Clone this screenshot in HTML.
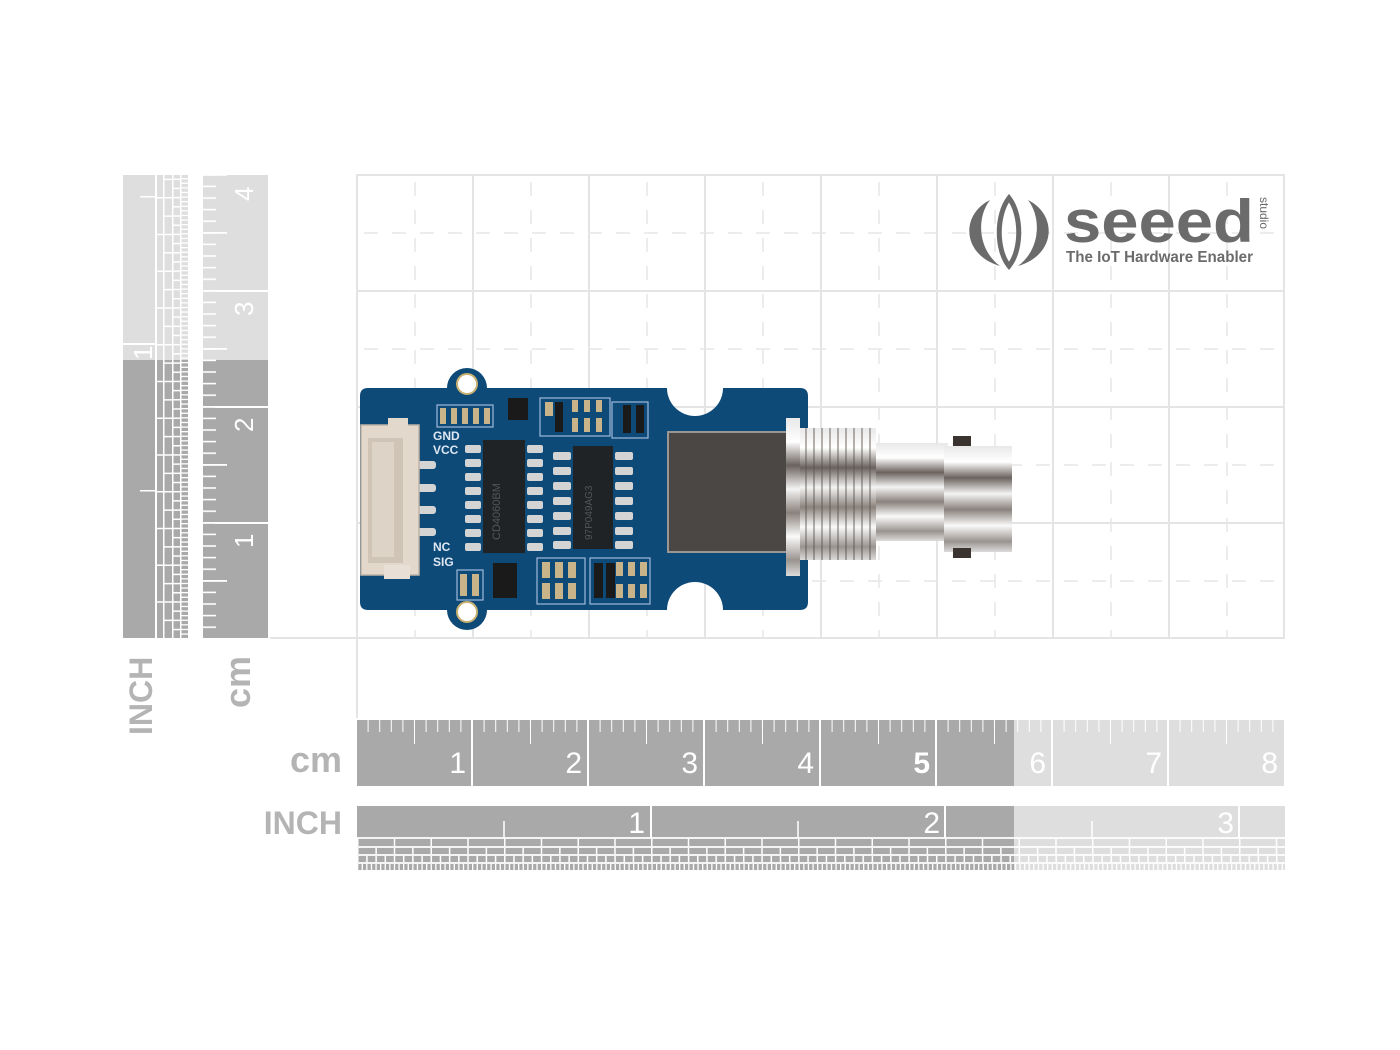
<!DOCTYPE html>
<html><head><meta charset="utf-8"><style>
html,body{margin:0;padding:0;background:#fff;width:1400px;height:1050px;overflow:hidden}
svg{display:block}
text{font-family:"Liberation Sans",sans-serif}
</style></head><body>
<svg width="1400" height="1050" viewBox="0 0 1400 1050" xmlns="http://www.w3.org/2000/svg">
<defs>
<pattern id="mmH" x="357" y="0" width="11.6" height="1050" patternUnits="userSpaceOnUse"><rect x="10.6" y="720" width="1.6" height="12" fill="#fff"/></pattern>
<pattern id="halfH" x="357" y="0" width="58" height="1050" patternUnits="userSpaceOnUse"><rect x="57" y="720" width="1.8" height="24" fill="#fff"/></pattern>
<pattern id="mmV" x="0" y="638" width="1050" height="11.6" patternUnits="userSpaceOnUse"><rect x="203" y="0" width="13" height="1.6" fill="#fff"/></pattern>
<pattern id="halfV" x="0" y="638" width="1050" height="58" patternUnits="userSpaceOnUse"><rect x="203" y="0" width="24" height="1.8" fill="#fff"/></pattern>
<pattern id="r1" x="357" y="0" width="36.75" height="10" patternUnits="userSpaceOnUse"><rect x="0" y="0" width="1.5" height="10" fill="#fff"/></pattern>
<pattern id="r2" x="357" y="0" width="18.375" height="10" patternUnits="userSpaceOnUse"><rect x="0" y="0" width="1.5" height="10" fill="#fff"/></pattern>
<pattern id="r3" x="357" y="0" width="9.19" height="10" patternUnits="userSpaceOnUse"><rect x="0" y="0" width="1.5" height="10" fill="#fff"/></pattern>
<pattern id="r4" x="357" y="0" width="4.6" height="10" patternUnits="userSpaceOnUse"><rect x="0" y="0" width="1.3" height="10" fill="#fff"/></pattern>
<pattern id="v1" x="0" y="638" width="10" height="36.75" patternUnits="userSpaceOnUse"><rect x="0" y="0" width="10" height="1.5" fill="#fff"/></pattern>
<pattern id="v2" x="0" y="638" width="10" height="18.375" patternUnits="userSpaceOnUse"><rect x="0" y="0" width="10" height="1.5" fill="#fff"/></pattern>
<pattern id="v3" x="0" y="638" width="10" height="9.19" patternUnits="userSpaceOnUse"><rect x="0" y="0" width="10" height="1.5" fill="#fff"/></pattern>
<pattern id="v4" x="0" y="638" width="10" height="4.6" patternUnits="userSpaceOnUse"><rect x="0" y="0" width="10" height="1.3" fill="#fff"/></pattern>
<linearGradient id="metal" x1="0" y1="0" x2="0" y2="1">
<stop offset="0" stop-color="#e8e8e8"/><stop offset="0.15" stop-color="#fff"/><stop offset="0.3" stop-color="#6a625e"/><stop offset="0.45" stop-color="#f4f4f4"/><stop offset="0.6" stop-color="#8a827c"/><stop offset="0.75" stop-color="#fafafa"/><stop offset="0.9" stop-color="#9a9490"/><stop offset="1" stop-color="#dcdcdc"/>
</linearGradient>
<pattern id="thread" x="800" y="0" width="8" height="10" patternUnits="userSpaceOnUse"><rect x="5" width="2" height="10" fill="#5a5450" opacity="0.45"/></pattern>
</defs>

<g stroke="#e4e4e4" stroke-width="2" fill="none">
<rect x="357" y="175" width="927" height="463"/>
<path d="M473 175V638M589 175V638M705 175V638M821 175V638M937 175V638M1053 175V638M1169 175V638M357 291H1284M357 407H1284M357 523H1284"/>
<path d="M357 638V718M270 638H357"/>
</g>
<g stroke="#e6e6e6" stroke-width="1.5" stroke-dasharray="14 14" fill="none">
<path d="M415 182V638M531 182V638M647 182V638M763 182V638M879 182V638M995 182V638M1111 182V638M1227 182V638"/>
<path d="M364 233H1284M364 349H1284M364 465H1284M364 581H1284"/>
</g>

<g fill="#6b6b6b">
<path d="M990 200 C960 215 962 255 1000 266 C978 250 976 218 990 200Z"/>
<path d="M1028 200 C1058 215 1056 255 1018 266 C1040 250 1042 218 1028 200Z"/>
<path d="M1009 198 C996 215 996 250 1009 266 C1022 250 1022 215 1009 198Z" fill="none" stroke="#6b6b6b" stroke-width="5"/>
</g>
<text x="1064" y="242" font-size="60" font-weight="bold" fill="#6b6b6b" textLength="190" lengthAdjust="spacingAndGlyphs">seeed</text>
<text x="1066" y="262" font-size="15.5" font-weight="bold" fill="#6b6b6b" textLength="187" lengthAdjust="spacingAndGlyphs">The IoT Hardware Enabler</text>
<text x="0" y="0" font-size="12" fill="#6b6b6b" transform="translate(1260,197) rotate(90)">studio</text>

<rect x="123" y="175" width="65" height="185" fill="#dedede"/>
<rect x="123" y="360" width="65" height="278" fill="#a8a9a8"/>
<rect x="203" y="175" width="65" height="185" fill="#dedede"/>
<rect x="203" y="360" width="65" height="278" fill="#a8a9a8"/>
<rect x="155" y="175" width="2" height="463" fill="#fff"/>
<rect x="163" y="175" width="1.5" height="463" fill="#fff"/>
<rect x="172" y="175" width="1.5" height="463" fill="#fff"/>
<rect x="180" y="175" width="1.5" height="463" fill="#fff"/>
<rect x="157" y="175" width="6" height="463" fill="url(#v1)"/>
<rect x="164.5" y="175" width="7.5" height="463" fill="url(#v2)"/>
<rect x="173.5" y="175" width="6.5" height="463" fill="url(#v3)"/>
<rect x="181.5" y="175" width="6.5" height="463" fill="url(#v4)"/>
<rect x="123" y="343" width="32" height="2" fill="#fff"/>
<rect x="140" y="490" width="15" height="1.5" fill="#fff"/>
<rect x="140" y="196" width="15" height="1.5" fill="#fff"/>
<text transform="translate(152,360) rotate(-90)" font-size="26" fill="#fff">1</text>
<rect x="203" y="175" width="65" height="463" fill="url(#mmV)"/>
<rect x="203" y="175" width="65" height="463" fill="url(#halfV)"/>
<path d="M215 523H268M215 407H268M215 291H268" stroke="#fff" stroke-width="2"/>
<g font-size="26" fill="#fff">
<text transform="translate(253,548) rotate(-90)">1</text>
<text transform="translate(253,432) rotate(-90)">2</text>
<text transform="translate(253,316) rotate(-90)">3</text>
<text transform="translate(253,201) rotate(-90)">4</text>
</g>
<text transform="translate(152,735) rotate(-90)" font-size="32" font-weight="bold" fill="#b4b4b4">INCH</text>
<text transform="translate(250,708) rotate(-90)" font-size="36" font-weight="bold" fill="#b4b4b4">cm</text>

<rect x="357" y="720" width="657" height="66" fill="#a8a9a8"/>
<rect x="1014" y="720" width="270" height="66" fill="#dedede"/>
<rect x="357" y="720" width="927" height="66" fill="url(#mmH)"/>
<rect x="357" y="720" width="927" height="66" fill="url(#halfH)"/>
<path d="M472 720V786M588 720V786M704 720V786M820 720V786M936 720V786M1052 720V786M1168 720V786" stroke="#fff" stroke-width="2"/>
<g font-size="30" fill="#fff" text-anchor="end">
<text x="466" y="773">1</text><text x="582" y="773">2</text><text x="698" y="773">3</text><text x="814" y="773">4</text><text x="930" y="773" font-weight="bold">5</text><text x="1046" y="773">6</text><text x="1162" y="773">7</text><text x="1278" y="773">8</text>
</g>
<text x="342" y="772" font-size="36" font-weight="bold" fill="#b4b4b4" text-anchor="end">cm</text>

<rect x="357" y="806" width="657" height="64" fill="#a8a9a8"/>
<rect x="1014" y="806" width="271" height="64" fill="#dedede"/>
<path d="M357 838H1285M357 847H1285M357 855H1285M357 863H1285" stroke="#fff" stroke-width="1.8"/>
<rect x="357" y="839" width="928" height="7" fill="url(#r1)"/>
<rect x="357" y="848" width="928" height="6" fill="url(#r2)"/>
<rect x="357" y="856" width="928" height="6" fill="url(#r3)"/>
<rect x="357" y="864" width="928" height="6" fill="url(#r4)"/>
<path d="M651 806V838M945 806V838M1239 806V838" stroke="#fff" stroke-width="2"/>
<path d="M504 821V838M798 821V838M1092 821V838" stroke="#fff" stroke-width="1.5"/>
<g font-size="30" fill="#fff" text-anchor="end">
<text x="645" y="833">1</text><text x="940" y="833">2</text><text x="1234" y="833">3</text>
</g>
<text x="342" y="834" font-size="32" font-weight="bold" fill="#b4b4b4" text-anchor="end">INCH</text>

<path d="M360 396 Q360 388 368 388 L447 388 A20 20 0 0 1 487 388 L667 388 A28 28 0 0 0 723 388 L800 388 Q808 388 808 396 L808 602 Q808 610 800 610 L723 610 A28 28 0 0 0 667 610 L487 610 A20 20 0 0 1 447 610 L368 610 Q360 610 360 602 Z" fill="#0e4a78"/>
<circle cx="467" cy="384" r="10" fill="#fff" stroke="#c8b070" stroke-width="2"/>
<circle cx="467" cy="612" r="10" fill="#fff" stroke="#c8b070" stroke-width="2"/>
<g fill="none" stroke="#9fb9d8" stroke-width="1.2">
<rect x="437" y="405" width="56" height="22"/>
<rect x="540" y="398" width="70" height="38"/>
<rect x="612" y="402" width="36" height="36"/>
<rect x="537" y="558" width="48" height="46"/>
<rect x="590" y="558" width="60" height="46"/>
<rect x="457" y="570" width="26" height="30"/>
</g>
<g fill="#c9b48a">
<rect x="440" y="408" width="6" height="16"/><rect x="451" y="408" width="6" height="16"/><rect x="462" y="408" width="6" height="16"/><rect x="473" y="408" width="6" height="16"/><rect x="484" y="408" width="6" height="16"/>
<rect x="545" y="402" width="8" height="14"/><rect x="572" y="400" width="6" height="12"/><rect x="584" y="400" width="6" height="12"/><rect x="596" y="400" width="6" height="12"/>
<rect x="572" y="418" width="6" height="14"/><rect x="584" y="418" width="6" height="14"/><rect x="596" y="418" width="6" height="14"/>
<rect x="542" y="562" width="8" height="16"/><rect x="555" y="562" width="8" height="16"/><rect x="568" y="562" width="8" height="16"/>
<rect x="542" y="583" width="8" height="16"/><rect x="555" y="583" width="8" height="16"/><rect x="568" y="583" width="8" height="16"/>
<rect x="616" y="562" width="7" height="14"/><rect x="628" y="562" width="7" height="14"/><rect x="640" y="562" width="7" height="14"/>
<rect x="616" y="584" width="7" height="14"/><rect x="628" y="584" width="7" height="14"/><rect x="640" y="584" width="7" height="14"/>
<rect x="460" y="574" width="7" height="22"/><rect x="472" y="574" width="7" height="22"/>
</g>
<g fill="#1a1a1a">
<rect x="508" y="398" width="20" height="22"/><rect x="555" y="402" width="8" height="30"/>
<rect x="623" y="405" width="8" height="28"/><rect x="636" y="405" width="8" height="28"/>
<rect x="493" y="563" width="24" height="35"/><rect x="594" y="563" width="9" height="35"/><rect x="606" y="563" width="9" height="35"/>
</g>
<g fill="#d4d4d4">
<rect x="465" y="445" width="16" height="8" rx="2"/><rect x="465" y="459" width="16" height="8" rx="2"/><rect x="465" y="473" width="16" height="8" rx="2"/><rect x="465" y="487" width="16" height="8" rx="2"/><rect x="465" y="501" width="16" height="8" rx="2"/><rect x="465" y="515" width="16" height="8" rx="2"/><rect x="465" y="529" width="16" height="8" rx="2"/><rect x="465" y="543" width="16" height="8" rx="2"/>
<rect x="527" y="445" width="16" height="8" rx="2"/><rect x="527" y="459" width="16" height="8" rx="2"/><rect x="527" y="473" width="16" height="8" rx="2"/><rect x="527" y="487" width="16" height="8" rx="2"/><rect x="527" y="501" width="16" height="8" rx="2"/><rect x="527" y="515" width="16" height="8" rx="2"/><rect x="527" y="529" width="16" height="8" rx="2"/><rect x="527" y="543" width="16" height="8" rx="2"/>
<rect x="553" y="452" width="18" height="8" rx="2"/><rect x="553" y="467" width="18" height="8" rx="2"/><rect x="553" y="482" width="18" height="8" rx="2"/><rect x="553" y="497" width="18" height="8" rx="2"/><rect x="553" y="512" width="18" height="8" rx="2"/><rect x="553" y="527" width="18" height="8" rx="2"/><rect x="553" y="541" width="18" height="8" rx="2"/>
<rect x="615" y="452" width="18" height="8" rx="2"/><rect x="615" y="467" width="18" height="8" rx="2"/><rect x="615" y="482" width="18" height="8" rx="2"/><rect x="615" y="497" width="18" height="8" rx="2"/><rect x="615" y="512" width="18" height="8" rx="2"/><rect x="615" y="527" width="18" height="8" rx="2"/><rect x="615" y="541" width="18" height="8" rx="2"/>
<rect x="412" y="461" width="24" height="8" rx="3"/><rect x="412" y="484" width="24" height="8" rx="3"/><rect x="412" y="506" width="24" height="8" rx="3"/><rect x="412" y="528" width="24" height="8" rx="3"/>
</g>
<rect x="483" y="440" width="42" height="113" fill="#1f2326"/>
<rect x="573" y="446" width="40" height="103" fill="#1f2326"/>
<text transform="translate(500,540) rotate(-90)" font-size="11" fill="#555">CD4060BM</text>
<text transform="translate(592,540) rotate(-90)" font-size="10" fill="#555">97P049AG3</text>
<g font-size="12" font-weight="bold" fill="#dfe8f2">
<text x="433" y="440">GND</text><text x="433" y="454">VCC</text><text x="433" y="551">NC</text><text x="433" y="566">SIG</text>
</g>
<rect x="361" y="425" width="58" height="150" fill="#e2d8cc" stroke="#bfb3a5" stroke-width="1.5"/>
<rect x="368" y="438" width="35" height="125" fill="#cfc4b6"/>
<rect x="372" y="442" width="22" height="115" fill="#ddd3c6"/>
<rect x="388" y="418" width="20" height="10" fill="#e2d8cc"/>
<rect x="384" y="565" width="26" height="14" fill="#e8e0d6"/>

<rect x="668" y="432" width="120" height="120" fill="#4a4745"/>
<rect x="668" y="432" width="120" height="120" fill="none" stroke="#9a9694" stroke-width="2"/>
<rect x="786" y="418" width="14" height="158" fill="url(#metal)"/>
<rect x="800" y="428" width="76" height="132" fill="url(#metal)"/>
<rect x="800" y="428" width="76" height="132" fill="url(#thread)"/>
<rect x="876" y="443" width="72" height="98" fill="url(#metal)"/>
<rect x="944" y="446" width="68" height="106" fill="url(#metal)"/>
<rect x="953" y="436" width="18" height="10" fill="#3a3330"/>
<rect x="953" y="548" width="18" height="10" fill="#3a3330"/>
</svg>
</body></html>
